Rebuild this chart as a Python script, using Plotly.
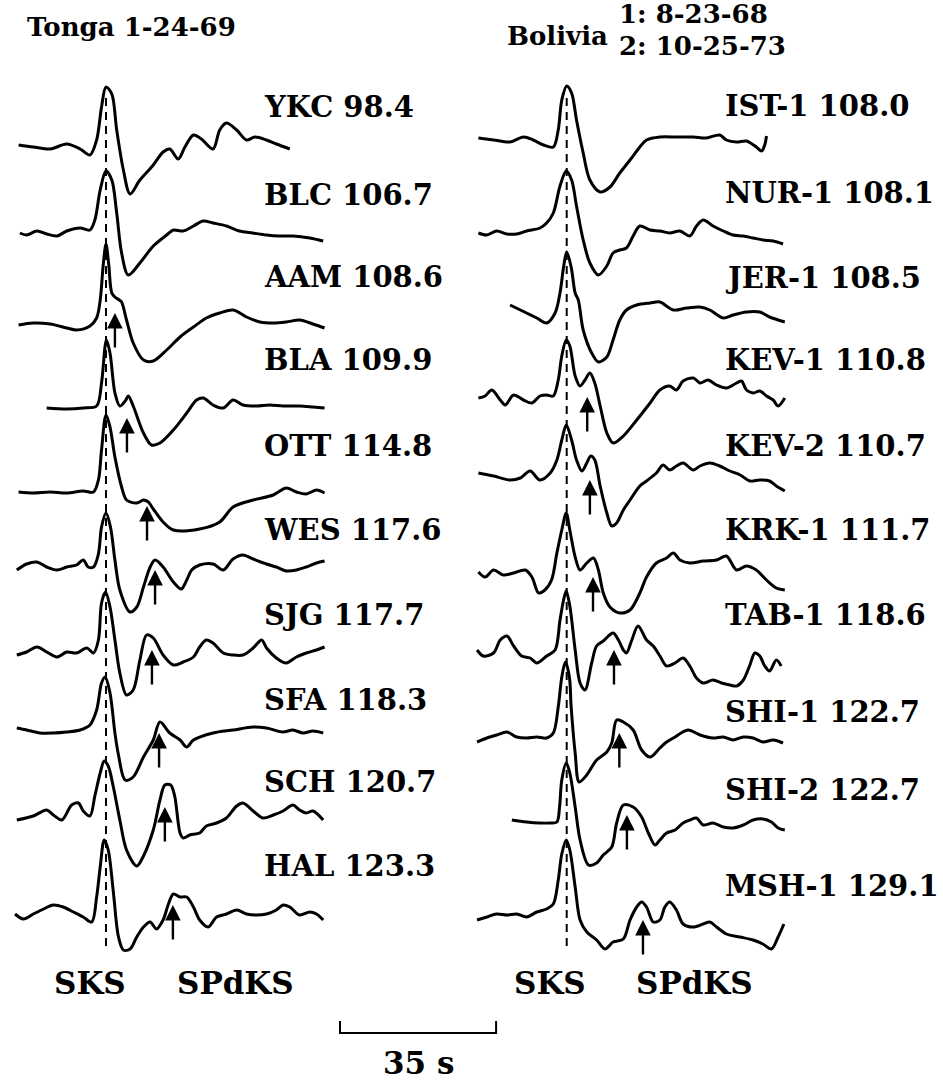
import plotly.graph_objects as go

# ---------------------------------------------------------------------------
# Record sections: SKS and SPdKS on long-period SV seismograms.
# Times are seconds relative to the SKS arrival, amplitudes are relative units.
# ---------------------------------------------------------------------------

SCALE_BAR_S = 35

TONGA_STATIONS = ["YKC", "BLC", "AAM", "BLA", "OTT", "WES", "SJG", "SFA", "SCH", "HAL"]
TONGA_DIST = [98.4, 106.7, 108.6, 109.9, 114.8, 117.6, 117.7, 118.3, 120.7, 123.3]
TONGA_SPDKS = [None, None, 2.0, 4.7, 9.2, 11.0, 10.3, 11.9, 13.2, 15.0]

BOLIVIA_STATIONS = ["IST-1", "NUR-1", "JER-1", "KEV-1", "KEV-2", "KRK-1", "TAB-1", "SHI-1", "SHI-2", "MSH-1"]
BOLIVIA_DIST = [108.0, 108.1, 108.5, 110.8, 110.7, 111.7, 118.6, 122.7, 122.7, 129.1]
BOLIVIA_SPDKS = [None, None, None, 4.6, 5.2, 5.9, 10.6, 11.8, 13.5, 17.1]

# ---- Tonga 1-24-69 ----
YKC_T = [-19.6, -16.3, -12.5, -8.8, -5.8, -3.6, -2.1, -1.0, 0.0, 1.3, 2.4, 3.9, 5.4, 7.6, 10.6, 12.8, 14.3, 16.2,
         17.7, 19.6, 21.4, 24.0, 25.5, 27.0, 29.3, 31.5, 33.4, 36.0, 38.2, 41.2]
YKC_A = [2, 0, -2, 3, -2, -8, 7, 40, 60, 53, 17, -23, -47, -33, -18, -5, -2, -12,
         0, 12, 8, -2, 17, 24, 17, 7, 10, 7, 3, -2]

BLC_T = [-19.3, -17.8, -15.5, -13.3, -11.0, -8.8, -5.8, -3.6, -2.5, -1.3, 0.0, 1.3, 2.4, 3.5, 5.0, 7.6, 10.6,
         13.6, 15.1, 17.3, 19.6, 21.8, 24.0, 27.0, 29.9, 32.9, 36.0, 38.9, 41.9, 45.7, 48.7]
BLC_A = [0, -2, 2, -1, -3, 2, 5, 3, 13, 43, 62, 53, 20, -20, -42, -30, -13,
         -2, 3, 2, 7, 12, 10, 7, 2, 0, -2, -3, -3, -5, -8]

AAM_T = [-19.6, -16.3, -12.5, -8.8, -6.6, -3.6, -2.1, -1.3, -0.6, 0.0, 0.6, 1.3, 2.0, 3.0, 3.5, 4.6, 6.1, 8.4,
         10.6, 13.6, 16.6, 19.6, 22.5, 25.5, 28.5, 31.5, 34.5, 37.5, 40.4, 43.4, 46.4, 49.0]
AAM_A = [-1, 1, 0, -4, -6, -2, 6, 24, 60, 80, 60, 31, 27, 24, 22, 4, -19, -36,
         -37, -26, -13, -3, 6, 11, 14, 7, 2, 1, 2, 4, 0, -4]

BLA_T = [-13.3, -8.8, -5.1, -2.1, -1.0, -0.2, 0.1, 0.9, 2.0, 3.1, 4.3, 5.0, 6.1, 8.4, 10.2, 12.1, 15.1, 18.1,
         20.3, 21.8, 24.0, 26.3, 28.5, 30.7, 33.7, 36.7, 39.7, 43.4, 46.4, 49.0]
BLA_A = [0, -1, 0, 2, 25, 62, 68, 55, 15, 2, 7, 12, 2, -25, -37, -35, -22, -5,
         8, 10, 3, 0, 8, 3, 2, 3, 2, 2, 1, 0]

OTT_T = [-19.6, -16.3, -12.5, -8.8, -5.1, -2.8, -1.7, -1.0, 0.0, 0.9, 2.0, 3.5, 4.6, 6.9, 8.4, 9.5, 10.6, 12.8,
         15.1, 21.0, 25.5, 28.5, 33.0, 37.5, 40.4, 42.7, 44.9, 47.2, 49.0]
OTT_A = [0, -1, 0, -1, 1, 0, 12, 42, 77, 65, 35, 5, -8, -11, -8, -10, -17, -30,
         -38, -37, -30, -15, -8, -3, 4, 0, -2, 2, -1]

WES_T = [-20.0, -17.8, -15.5, -13.3, -11.0, -8.8, -6.6, -5.1, -4.0, -2.8, -1.7, -1.0, 0.0, 1.0, 2.0, 3.1, 5.4,
         6.9, 8.4, 9.9, 11.0, 12.8, 15.1, 16.9, 18.1, 19.2, 21.0, 24.0, 26.3, 28.5, 30.7, 33.0, 36.0, 38.2,
         40.4, 42.7, 44.9, 47.2, 49.0]
WES_A = [-3, 3, 5, 0, -3, 0, 2, 7, 0, 0, 13, 40, 54, 40, 7, -23, -45,
         -40, -20, 0, 7, 0, -15, -22, -13, -3, 2, 3, -3, 8, 12, 8, 3, 0,
         -4, -3, 0, 4, 6]

SJG_T = [-20.0, -17.8, -15.5, -13.3, -11.0, -8.8, -6.6, -4.3, -2.8, -1.7, -1.0, -0.1, 0.9, 2.0, 3.1, 4.6, 6.1,
         7.6, 9.1, 10.6, 12.8, 15.1, 17.3, 19.6, 21.0, 22.5, 24.0, 26.3, 28.5, 30.7, 33.0, 34.9, 36.0, 38.2,
         40.4, 42.7, 44.9, 47.2, 49.0]
SJG_A = [0, 3, 8, 3, -2, 3, 2, 7, 2, 15, 52, 63, 48, 15, -18, -40, -35,
         -5, 20, 17, 0, -10, -7, -2, 8, 15, 12, 2, 0, 0, 7, 15, 7, -3,
         -8, -2, 2, 5, 8]

SFA_T = [-20.0, -17.8, -14.8, -11.8, -8.8, -5.8, -3.6, -2.1, -1.0, -0.2, 0.9, 2.0, 2.8, 4.3, 6.1, 8.4, 10.6,
         12.1, 14.3, 16.6, 18.1, 19.6, 24.0, 28.5, 33.0, 36.0, 39.7, 41.9, 44.2, 46.4, 48.7]
SFA_A = [2, 0, -3, -3, -2, 0, 5, 20, 47, 53, 37, -3, -25, -50, -47, -27, -10,
         8, -3, -10, -17, -10, -3, 0, 3, 2, -2, 0, -3, -1, -3]

SCH_T = [-20.0, -16.3, -13.3, -11.8, -9.9, -7.7, -6.2, -5.1, -3.6, -2.5, -1.3, -0.4, 0.5, 1.6, 3.1, 4.6, 6.9,
         8.4, 10.6, 12.1, 13.2, 14.5, 15.4, 16.6, 17.3, 18.8, 21.0, 22.5, 24.8, 27.0, 29.3, 30.7, 33.0, 35.2,
         37.5, 39.7, 41.9, 43.4, 44.9, 46.4, 48.7]
SCH_A = [-2, 2, 8, 3, -2, 13, 15, 7, 2, 22, 45, 57, 52, 32, -2, -32, -48,
         -38, -12, 18, 33, 33, 22, -15, -20, -17, -15, -8, -5, 0, 12, 15, 7, 0,
         3, 7, 13, 8, 5, 7, -2]

HAL_T = [-20.4, -18.5, -16.3, -14.0, -11.8, -9.6, -7.3, -5.1, -3.2, -2.1, -1.3, -0.4, 0.5, 1.6, 2.8, 3.9, 5.4,
         6.9, 8.4, 9.9, 11.3, 12.8, 14.0, 15.1, 16.6, 18.1, 19.6, 21.0, 22.9, 24.8, 27.0, 29.3, 31.5, 33.7,
         36.0, 38.2, 39.7, 41.2, 43.4, 45.7, 47.2, 48.7]
HAL_A = [3, -2, 3, 8, 12, 10, 5, 0, -5, 20, 50, 77, 67, 27, -20, -33, -32,
         -20, -10, -5, -12, -3, 13, 23, 20, 20, 10, -3, -10, 0, 3, 7, 3, 2,
         3, 7, 12, 10, 2, 5, 3, -3]

# ---- Bolivia 1: 8-23-68, 2: 10-25-73 ----
IST1_T = [-19.8, -16.4, -12.7, -9.7, -7.5, -5.2, -3.0, -1.9, -1.1, 0.0, 1.1, 2.2, 3.7, 5.2, 7.5, 9.7, 11.9,
          14.2, 16.4, 17.9, 20.9, 24.6, 28.4, 31.3, 34.3, 35.8, 38.1, 40.3, 42.5, 43.7, 44.4, 44.8]
IST1_A = [2, 0, -2, 3, 0, -5, -7, 10, 40, 54, 47, 20, -13, -40, -52, -47, -33,
          -20, -7, 0, 3, 3, 3, 2, 5, 0, -2, -1, -7, -11, -5, 4]

NUR1_T = [-19.8, -17.9, -15.7, -13.4, -11.2, -9.0, -6.0, -4.5, -3.0, -1.5, -0.1, 1.1, 2.2, 3.7, 5.2, 7.1, 9.0,
          10.4, 11.9, 13.4, 14.9, 16.4, 18.7, 20.9, 23.1, 25.4, 27.6, 29.1, 30.6, 32.8, 35.1, 37.3, 39.6,
          41.8, 44.0, 46.3, 48.5]
NUR1_A = [0, -2, 2, -1, -1, 2, 5, 10, 20, 47, 62, 53, 27, -7, -30, -42, -33,
          -20, -17, -15, -3, 7, 3, 2, 0, 2, -3, 7, 13, 7, 2, -2, -3,
          -5, -7, -8, -11]

JER1_T = [-12.7, -9.0, -6.7, -4.5, -2.6, -1.5, -0.7, 0.0, 1.0, 1.9, 2.6, 3.7, 5.6, 7.1, 9.0, 10.4, 11.9, 13.4,
          15.7, 18.7, 20.9, 23.9, 26.9, 29.9, 32.1, 35.1, 37.3, 40.3, 43.3, 45.5, 48.9]
JER1_A = [5, -3, -8, -13, -3, 17, 43, 58, 43, 17, 10, -20, -43, -52, -47, -30, -10, 0,
          5, 7, 8, 0, 2, 3, 0, -8, -5, -2, -2, -7, -12]

KEV1_T = [-19.8, -18.3, -16.8, -14.9, -13.8, -11.9, -9.7, -7.8, -6.0, -4.5, -3.0, -1.9, -1.1, -0.1, 0.7, 1.9,
          3.0, 4.1, 5.2, 6.3, 7.5, 9.0, 10.4, 12.7, 15.7, 18.7, 20.9, 23.1, 24.6, 26.1, 28.4, 29.9, 31.7,
          33.6, 35.8, 38.1, 39.2, 40.3, 41.8, 43.3, 44.8, 46.3, 47.4, 48.9]
KEV1_A = [0, 2, 8, -2, -7, 3, -2, -5, 2, 3, 2, 18, 42, 58, 52, 22,
          12, 18, 25, 15, -8, -35, -45, -38, -22, -5, 8, 12, 8, 17, 20, 15, 18,
          13, 10, 15, 17, 8, 5, 7, 2, -2, -8, 0]

KEV2_T = [-19.8, -16.4, -12.7, -10.4, -8.2, -6.0, -3.7, -2.2, -1.1, -0.1, 1.1, 2.2, 3.4, 4.5, 5.4, 6.3, 7.5,
          9.0, 10.1, 11.2, 12.7, 14.2, 16.4, 17.9, 20.1, 21.6, 23.1, 24.6, 26.1, 28.4, 29.9, 32.1, 34.3,
          36.6, 38.9, 41.1, 43.3, 45.5, 47.0, 48.9]
KEV2_A = [0, -3, -7, -5, 2, -7, 0, 13, 33, 48, 33, 13, 2, 10, 17, 13, -13,
          -40, -53, -50, -37, -27, -13, -8, 0, 8, 3, 7, 10, 3, 7, 10, 7,
          2, -2, -8, -7, -8, -13, -18]

KRK1_T = [-19.8, -18.3, -16.4, -14.2, -11.9, -9.3, -7.8, -6.3, -4.9, -3.4, -2.2, -1.1, -0.1, 0.7, 1.9, 3.0, 4.5,
          6.0, 7.1, 8.2, 9.7, 11.9, 14.2, 16.4, 17.9, 20.1, 22.4, 23.9, 25.4, 27.6, 30.6, 33.6, 35.8, 38.1,
          40.3, 42.5, 44.8, 47.0, 48.9]
KRK1_A = [1, -4, 3, -2, 0, 3, -4, -20, -17, -7, 20, 43, 60, 43, 16, 3, 10,
          15, 3, -20, -34, -40, -37, -20, -4, 10, 15, 20, 13, 10, 12, 13, 17, 3,
          7, 3, -7, -15, -17]

TAB1_T = [-20.1, -18.7, -16.4, -14.9, -13.4, -11.9, -10.1, -8.2, -6.7, -4.5, -2.6, -1.5, -0.7, -0.1, 0.7, 1.9,
          3.0, 4.1, 5.6, 6.7, 8.2, 10.4, 11.6, 12.7, 13.4, 14.6, 16.0, 17.9, 19.4, 20.9, 22.4, 24.3, 26.1,
          27.6, 29.1, 30.6, 32.8, 34.7, 36.6, 38.1, 39.6, 41.0, 42.2, 43.3, 44.4, 45.5, 47.0, 48.1]
TAB1_A = [3, -3, 0, 13, 17, 7, -3, -5, -10, -3, 3, 33, 53, 62, 47, 3,
          -30, -37, -10, 7, 12, 20, 13, 3, 0, 13, 27, 13, 7, -3, -13, -10, -5,
          -13, -25, -30, -27, -30, -32, -33, -27, -13, 0, -3, -13, -18, -7, -13]

SHI1_T = [-20.1, -17.9, -15.7, -13.4, -11.2, -9.0, -6.7, -4.5, -3.0, -1.9, -1.1, -0.3, 0.6, 1.0, 1.9, 2.8, 4.5,
          6.7, 9.0, 10.1, 11.2, 12.7, 14.9, 16.8, 18.7, 20.9, 22.4, 23.9, 27.2, 29.9, 32.8, 35.1, 37.3,
          39.6, 41.8, 44.0, 46.3, 48.5]
SHI1_A = [-2, 2, 5, 8, 3, 2, 3, 2, 7, 33, 63, 78, 63, 33, -13, -42, -35,
          -20, -12, -3, 20, 18, 10, -10, -17, -8, -2, 2, 10, 5, 2, 3, 0,
          3, 2, -2, 0, -3]

SHI2_T = [-12.3, -9.0, -6.0, -3.7, -2.2, -1.6, -1.1, -0.1, 0.7, 1.9, 3.0, 4.9, 6.7, 8.2, 10.1, 11.2, 12.7,
          14.9, 16.8, 18.3, 19.8, 20.9, 22.4, 24.3, 26.1, 27.6, 29.1, 30.6, 32.8, 35.1, 37.3, 39.6, 41.8,
          44.0, 45.9, 47.4, 48.9]
SHI2_A = [0, -2, -3, -3, -2, 13, 40, 57, 47, 13, -20, -45, -43, -35, -27, -3, 15,
          13, 3, -13, -25, -20, -13, -10, -3, 0, 2, -5, -3, -7, -8, -5, 0,
          1, -2, -8, -10]

MSH1_T = [-20.1, -17.9, -15.7, -13.4, -11.2, -9.0, -6.7, -4.5, -3.0, -1.9, -1.1, -0.1, 0.7, 1.9, 3.0, 4.5, 6.7,
          8.6, 10.4, 12.7, 14.2, 15.7, 16.8, 17.9, 19.4, 20.9, 22.0, 23.1, 24.6, 26.1, 28.4, 30.6, 32.1,
          33.6, 35.8, 38.8, 41.8, 44.0, 45.9, 47.4, 48.7]
MSH1_A = [-3, 0, 3, 2, 3, 0, 5, 8, 13, 37, 63, 77, 67, 30, -3, -15, -23,
          -32, -25, -22, -3, 10, 15, 10, -5, -3, 10, 15, 7, -7, -10, -7, -5,
          -10, -17, -20, -23, -27, -32, -20, -7]

TONGA_TRACES = [(YKC_T, YKC_A), (BLC_T, BLC_A), (AAM_T, AAM_A), (BLA_T, BLA_A), (OTT_T, OTT_A),
                (WES_T, WES_A), (SJG_T, SJG_A), (SFA_T, SFA_A), (SCH_T, SCH_A), (HAL_T, HAL_A)]
BOLIVIA_TRACES = [(IST1_T, IST1_A), (NUR1_T, NUR1_A), (JER1_T, JER1_A), (KEV1_T, KEV1_A), (KEV2_T, KEV2_A),
                  (KRK1_T, KRK1_A), (TAB1_T, TAB1_A), (SHI1_T, SHI1_A), (SHI2_T, SHI2_A), (MSH1_T, MSH1_A)]

# ---------------------------------------------------------------------------
# Layout (page pixels; y grows downward)
# ---------------------------------------------------------------------------
W, H = 943, 1084
PX_PER_S = 4.46                 # horizontal time scale
SKS_X = {"x": 106, "x2": 566.7}  # page x of the SKS line in each section

TONGA_BASE = [147, 233, 324, 408, 492, 567, 655, 730, 818, 917]
BOLIVIA_BASE = [140, 233, 310, 398, 473, 573, 653, 740, 820, 917]
TONGA_LABEL_Y = [107, 195, 277, 360, 446, 530, 615, 700, 782, 866]
BOLIVIA_LABEL_Y = [106, 193, 278, 360, 446, 530, 615, 712, 790, 886]
TONGA_ARROW_TIP = [None, None, 11, -10, -14, -3, 5, -3, 11, 12]
BOLIVIA_ARROW_TIP = [None, None, None, 1, -7, -4, 3, 7, 5, -3]
ARROW_LEN = 36
LABEL_T = 35.0

FONT = "DejaVu Serif"
LABEL_SIZE = 29
PHASE_SIZE = 31
HEAD_SIZE = 26
INK = "black"

fig = go.Figure()


def xrange_for(axis):
    x0 = SKS_X[axis]
    return [-x0 / PX_PER_S, (W - x0) / PX_PER_S]


def add_section(axis, traces, bases, names, dists, picks, tips, label_y):
    # SKS reference line
    fig.add_trace(go.Scatter(
        x=[0, 0], y=[98, 948], xaxis=axis, yaxis="y", mode="lines",
        line=dict(color=INK, width=2, dash="8px,6px"), hoverinfo="skip", showlegend=False))
    for (t, a), base, name, dist, pick, tip, ly in zip(traces, bases, names, dists, picks, tips, label_y):
        fig.add_trace(go.Scatter(
            x=t, y=[base - v for v in a], xaxis=axis, yaxis="y", mode="lines",
            line=dict(color=INK, width=3, shape="spline", smoothing=0.9),
            name=name, showlegend=False))
        fig.add_annotation(
            x=LABEL_T, y=ly, xref=axis, yref="y", xanchor="left", yanchor="middle",
            text=f"<b>{name} {dist:.1f}</b>", showarrow=False,
            font=dict(family=FONT, size=LABEL_SIZE, color=INK))
        if pick is not None:
            fig.add_annotation(
                x=pick, y=base - tip, ax=pick, ay=base - tip + ARROW_LEN,
                xref=axis, yref="y", axref=axis, ayref="y", text="",
                showarrow=True, arrowhead=2, arrowsize=1.3, arrowwidth=2.4,
                arrowcolor=INK, standoff=0, startstandoff=0)


add_section("x", TONGA_TRACES, TONGA_BASE, TONGA_STATIONS, TONGA_DIST, TONGA_SPDKS,
            TONGA_ARROW_TIP, TONGA_LABEL_Y)
add_section("x2", BOLIVIA_TRACES, BOLIVIA_BASE, BOLIVIA_STATIONS, BOLIVIA_DIST, BOLIVIA_SPDKS,
            BOLIVIA_ARROW_TIP, BOLIVIA_LABEL_Y)

# phase names under each section
for axis, sks_t, spdks_t in (("x", -3.6, 29.1), ("x2", -3.7, 28.6)):
    for txt, tx in (("SKS", sks_t), ("SPdKS", spdks_t)):
        fig.add_annotation(x=tx, y=983, xref=axis, yref="y", text=f"<b>{txt}</b>", showarrow=False,
                           xanchor="center", yanchor="middle",
                           font=dict(family=FONT, size=PHASE_SIZE, color=INK))

# time scale bar
bar_t0 = (340 - SKS_X["x"]) / PX_PER_S
fig.add_trace(go.Scatter(
    x=[bar_t0, bar_t0, bar_t0 + SCALE_BAR_S, bar_t0 + SCALE_BAR_S], y=[1021, 1033, 1033, 1021],
    xaxis="x", yaxis="y", mode="lines", line=dict(color=INK, width=2), hoverinfo="skip", showlegend=False))
fig.add_annotation(x=bar_t0 + SCALE_BAR_S / 2, y=1063, xref="x", yref="y", text=f"<b>{SCALE_BAR_S} s</b>",
                   showarrow=False, xanchor="center", yanchor="middle",
                   font=dict(family=FONT, size=PHASE_SIZE, color=INK))

# event headers
headers = [("Tonga 1-24-69", 25, 27), ("Bolivia", 505, 36), ("1: 8-23-68", 617, 14), ("2: 10-25-73", 617, 46)]
for txt, px, py in headers:
    fig.add_annotation(x=px / W, y=py, xref="paper", yref="y", text=f"<b>{txt}</b>", showarrow=False,
                       xanchor="left", yanchor="middle", font=dict(family=FONT, size=HEAD_SIZE, color=INK))

axis_style = dict(visible=False, showgrid=False, zeroline=False, fixedrange=True)
fig.update_layout(
    width=W, height=H, margin=dict(l=0, r=0, t=0, b=0),
    paper_bgcolor="white", plot_bgcolor="white", showlegend=False,
    xaxis=dict(range=xrange_for("x"), domain=[0, 1], **axis_style),
    xaxis2=dict(range=xrange_for("x2"), domain=[0, 1], overlaying="x", **axis_style),
    yaxis=dict(range=[H, 0], domain=[0, 1], **axis_style),
)

fig.write_html("out.html")
